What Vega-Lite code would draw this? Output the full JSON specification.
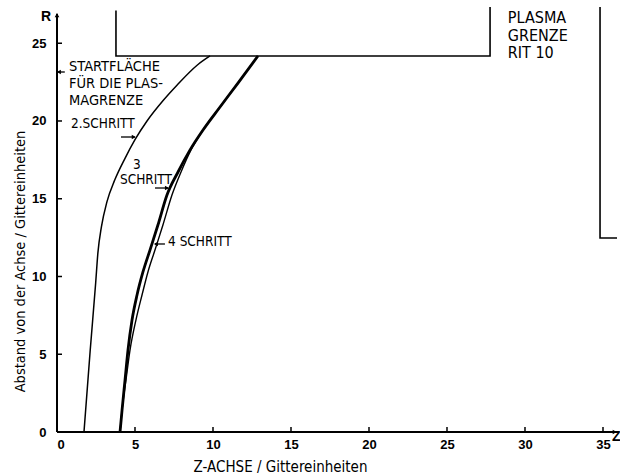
{
  "$schema": "https://vega.github.io/schema/vega-lite/v6.json",
  "width": 563,
  "height": 432,
  "autosize": {"type": "none"},
  "padding": {"left": 57, "top": 0, "right": 0, "bottom": 44},
  "background": "white",
  "config": {"view": {"stroke": null}},
  "datasets": {
    "curves": [
      {"series": "s2", "i": 0, "z": 1.73, "r": 0},
      {"series": "s2", "i": 1, "z": 2.13, "r": 5.27},
      {"series": "s2", "i": 2, "z": 2.48, "r": 9.6},
      {"series": "s2", "i": 3, "z": 2.62, "r": 11.5},
      {"series": "s2", "i": 4, "z": 2.85, "r": 13.2},
      {"series": "s2", "i": 5, "z": 3.2, "r": 14.8},
      {"series": "s2", "i": 6, "z": 3.7, "r": 16.2},
      {"series": "s2", "i": 7, "z": 4.36, "r": 17.6},
      {"series": "s2", "i": 8, "z": 5.0, "r": 18.8},
      {"series": "s2", "i": 9, "z": 5.77, "r": 20.0},
      {"series": "s2", "i": 10, "z": 6.79, "r": 21.3},
      {"series": "s2", "i": 11, "z": 7.69, "r": 22.3},
      {"series": "s2", "i": 12, "z": 9.0, "r": 23.6},
      {"series": "s2", "i": 13, "z": 9.81, "r": 24.18},
      {"series": "s3", "i": 0, "z": 4.04, "r": 0},
      {"series": "s3", "i": 1, "z": 4.17, "r": 1.41},
      {"series": "s3", "i": 2, "z": 4.36, "r": 3.34},
      {"series": "s3", "i": 3, "z": 4.55, "r": 5.27},
      {"series": "s3", "i": 4, "z": 4.81, "r": 7.2},
      {"series": "s3", "i": 5, "z": 5.13, "r": 8.81},
      {"series": "s3", "i": 6, "z": 5.51, "r": 10.29},
      {"series": "s3", "i": 7, "z": 5.96, "r": 11.7},
      {"series": "s3", "i": 8, "z": 6.47, "r": 13.31},
      {"series": "s3", "i": 9, "z": 7.05, "r": 15.24},
      {"series": "s3", "i": 10, "z": 7.76, "r": 16.72},
      {"series": "s3", "i": 11, "z": 8.53, "r": 18.14},
      {"series": "s3", "i": 12, "z": 9.36, "r": 19.42},
      {"series": "s3", "i": 13, "z": 10.45, "r": 20.9},
      {"series": "s3", "i": 14, "z": 11.6, "r": 22.44},
      {"series": "s3", "i": 15, "z": 12.88, "r": 24.18},
      {"series": "s4", "i": 0, "z": 4.04, "r": 0},
      {"series": "s4", "i": 1, "z": 4.17, "r": 1.41},
      {"series": "s4", "i": 2, "z": 4.42, "r": 3.34},
      {"series": "s4", "i": 3, "z": 4.68, "r": 5.27},
      {"series": "s4", "i": 4, "z": 5.06, "r": 7.2},
      {"series": "s4", "i": 5, "z": 5.45, "r": 8.81},
      {"series": "s4", "i": 6, "z": 5.83, "r": 10.29},
      {"series": "s4", "i": 7, "z": 6.28, "r": 11.7},
      {"series": "s4", "i": 8, "z": 6.79, "r": 13.31},
      {"series": "s4", "i": 9, "z": 7.37, "r": 15.24},
      {"series": "s4", "i": 10, "z": 7.95, "r": 16.72},
      {"series": "s4", "i": 11, "z": 8.59, "r": 18.14},
      {"series": "s4", "i": 12, "z": 9.36, "r": 19.42},
      {"series": "s4", "i": 13, "z": 10.45, "r": 20.9},
      {"series": "s4", "i": 14, "z": 11.6, "r": 22.44},
      {"series": "s4", "i": 15, "z": 12.88, "r": 24.18}
    ],
    "boundary": [
      {"piece": "a", "i": 0, "z": 3.78, "r": 27.1},
      {"piece": "a", "i": 1, "z": 3.78, "r": 24.18},
      {"piece": "a", "i": 2, "z": 27.76, "r": 24.18},
      {"piece": "a", "i": 3, "z": 27.76, "r": 27.33},
      {"piece": "b", "i": 0, "z": 34.81, "r": 27.33},
      {"piece": "b", "i": 1, "z": 34.81, "r": 12.48},
      {"piece": "b", "i": 2, "z": 35.9, "r": 12.48}
    ],
    "axes": [
      {"axis": "y", "i": 0, "z": 0, "r": 0},
      {"axis": "y", "i": 1, "z": 0, "r": 26.9},
      {"axis": "x", "i": 0, "z": 0, "r": 0},
      {"axis": "x", "i": 1, "z": 36.0, "r": 0}
    ],
    "xticks": [
      {"z": 5, "r": 0}, {"z": 10, "r": 0}, {"z": 15, "r": 0}, {"z": 20, "r": 0},
      {"z": 25, "r": 0}, {"z": 30, "r": 0}, {"z": 35, "r": 0}
    ],
    "yticks": [
      {"z": 0, "r": 5}, {"z": 0, "r": 10}, {"z": 0, "r": 15}, {"z": 0, "r": 20}, {"z": 0, "r": 25}
    ],
    "arrows": [
      {"id": "start", "z": 0.06, "z2": 0.5, "r": 23.15},
      {"id": "s2", "z": 4.1, "z2": 4.99, "r": 18.97},
      {"id": "s3", "z": 6.28, "z2": 7.12, "r": 15.69},
      {"id": "s4", "z": 6.28, "z2": 6.92, "r": 12.09}
    ],
    "heads": [
      {"dir": "left", "z": 0.12, "r": 23.15},
      {"dir": "right", "z": 4.92, "r": 18.97},
      {"dir": "right", "z": 7.05, "r": 15.69},
      {"dir": "left", "z": 6.34, "r": 12.09},
      {"dir": "up", "z": 0, "r": 26.8},
      {"dir": "right", "z": 35.75, "r": 0}
    ],
    "notes": [
      {"kind": "start", "label": "STARTFLÄCHE", "z": 0.77, "r": 23.45},
      {"kind": "start", "label": "FÜR DIE PLAS-", "z": 0.77, "r": 22.39},
      {"kind": "start", "label": "MAGRENZE", "z": 0.77, "r": 21.3},
      {"kind": "step", "label": "2.SCHRITT", "z": 0.9, "r": 19.81},
      {"kind": "step", "label": "3", "z": 4.87, "r": 17.2},
      {"kind": "step", "label": "SCHRITT", "z": 4.04, "r": 16.2},
      {"kind": "step", "label": "4 SCHRITT", "z": 7.12, "r": 12.22},
      {"kind": "plasma", "label": "PLASMA", "z": 28.9, "r": 26.6},
      {"kind": "plasma", "label": "GRENZE", "z": 28.9, "r": 25.48},
      {"kind": "plasma", "label": "RIT 10", "z": 28.9, "r": 24.36}
    ],
    "axisnames": [
      {"label": "R", "z": -0.7, "r": 26.7, "align": "right"},
      {"label": "Z", "z": 35.85, "r": -0.32, "align": "left"}
    ]
  },
  "encoding": {
    "x": {
      "field": "z",
      "type": "quantitative",
      "scale": {"domain": [0, 36.09], "nice": false, "zero": false},
      "axis": {
        "values": [0, 5, 10, 15, 20, 25, 30, 35],
        "domain": false,
        "grid": false,
        "ticks": false,
        "labelFont": "Liberation Sans",
        "labelFontWeight": "bold",
        "labelFontSize": 13,
        "labelColor": "black",
        "labelPadding": 6,
        "title": "Z-ACHSE / Gittereinheiten",
        "titleFont": "DejaVu Sans Condensed",
        "titleFontWeight": "normal",
        "titleFontSize": 15,
        "titleColor": "black",
        "titleX": 223,
        "titleY": 34,
        "titleBaseline": "middle"
      }
    },
    "y": {
      "field": "r",
      "type": "quantitative",
      "scale": {"domain": [0, 27.78], "nice": false, "zero": false},
      "axis": {
        "values": [0, 5, 10, 15, 20, 25],
        "domain": false,
        "grid": false,
        "ticks": false,
        "labelFont": "Liberation Sans",
        "labelFontWeight": "bold",
        "labelFontSize": 13,
        "labelColor": "black",
        "labelPadding": 11,
        "title": "Abstand von der Achse / Gittereinheiten",
        "titleFont": "DejaVu Sans Condensed",
        "titleFontWeight": "normal",
        "titleFontSize": 14.5,
        "titleColor": "black",
        "titleX": -37,
        "titleY": 261,
        "titleBaseline": "middle",
        "titleAngle": -90
      }
    }
  },
  "layer": [
    {
      "data": {"name": "boundary"},
      "mark": {"type": "line", "color": "black", "strokeWidth": 1.6, "clip": false},
      "encoding": {"detail": {"field": "piece"}, "order": {"field": "i"}}
    },
    {
      "data": {"name": "curves"},
      "transform": [{"filter": "datum.series == 's2'"}],
      "mark": {"type": "line", "color": "black", "strokeWidth": 1.5, "interpolate": "monotone"},
      "encoding": {"order": {"field": "i"}}
    },
    {
      "data": {"name": "curves"},
      "transform": [{"filter": "datum.series == 's4'"}],
      "mark": {"type": "line", "color": "black", "strokeWidth": 1.4, "interpolate": "monotone"},
      "encoding": {"order": {"field": "i"}}
    },
    {
      "data": {"name": "curves"},
      "transform": [{"filter": "datum.series == 's3'"}],
      "mark": {"type": "line", "color": "black", "strokeWidth": 2.8, "interpolate": "monotone"},
      "encoding": {"order": {"field": "i"}}
    },
    {
      "data": {"name": "axes"},
      "mark": {"type": "line", "color": "black", "strokeWidth": 2, "clip": false},
      "encoding": {"detail": {"field": "axis"}, "order": {"field": "i"}}
    },
    {
      "data": {"name": "xticks"},
      "mark": {"type": "tick", "orient": "vertical", "color": "black", "opacity": 1, "size": 5, "thickness": 1.5, "yOffset": -2.5}
    },
    {
      "data": {"name": "yticks"},
      "mark": {"type": "tick", "orient": "horizontal", "color": "black", "opacity": 1, "size": 5, "thickness": 1.5, "xOffset": 2.5}
    },
    {
      "data": {"name": "arrows"},
      "mark": {"type": "rule", "color": "black", "strokeWidth": 1.3},
      "encoding": {"x2": {"field": "z2"}}
    },
    {
      "data": {"name": "heads"},
      "mark": {"type": "point", "filled": true, "color": "black", "opacity": 1, "size": 22},
      "encoding": {
        "shape": {
          "field": "dir",
          "type": "nominal",
          "scale": {"domain": ["left", "right", "up"], "range": ["triangle-left", "triangle-right", "triangle-up"]},
          "legend": null
        }
      }
    },
    {
      "data": {"name": "notes"},
      "transform": [{"filter": "datum.kind == 'start'"}],
      "mark": {"type": "text", "align": "left", "baseline": "middle", "font": "DejaVu Sans Condensed", "fontSize": 14.5, "color": "black"},
      "encoding": {"text": {"field": "label"}}
    },
    {
      "data": {"name": "notes"},
      "transform": [{"filter": "datum.kind == 'step'"}],
      "mark": {"type": "text", "align": "left", "baseline": "middle", "font": "DejaVu Sans Condensed", "fontSize": 13.5, "color": "black"},
      "encoding": {"text": {"field": "label"}}
    },
    {
      "data": {"name": "notes"},
      "transform": [{"filter": "datum.kind == 'plasma'"}],
      "mark": {"type": "text", "align": "left", "baseline": "middle", "font": "DejaVu Sans Condensed", "fontSize": 16, "color": "black"},
      "encoding": {"text": {"field": "label"}}
    },
    {
      "data": {"name": "axisnames"},
      "mark": {"type": "text", "baseline": "middle", "font": "Liberation Sans", "fontWeight": "bold", "fontSize": 14, "color": "black"},
      "encoding": {"text": {"field": "label"}, "align": {"field": "align", "type": "nominal", "scale": null}}
    }
  ]
}
